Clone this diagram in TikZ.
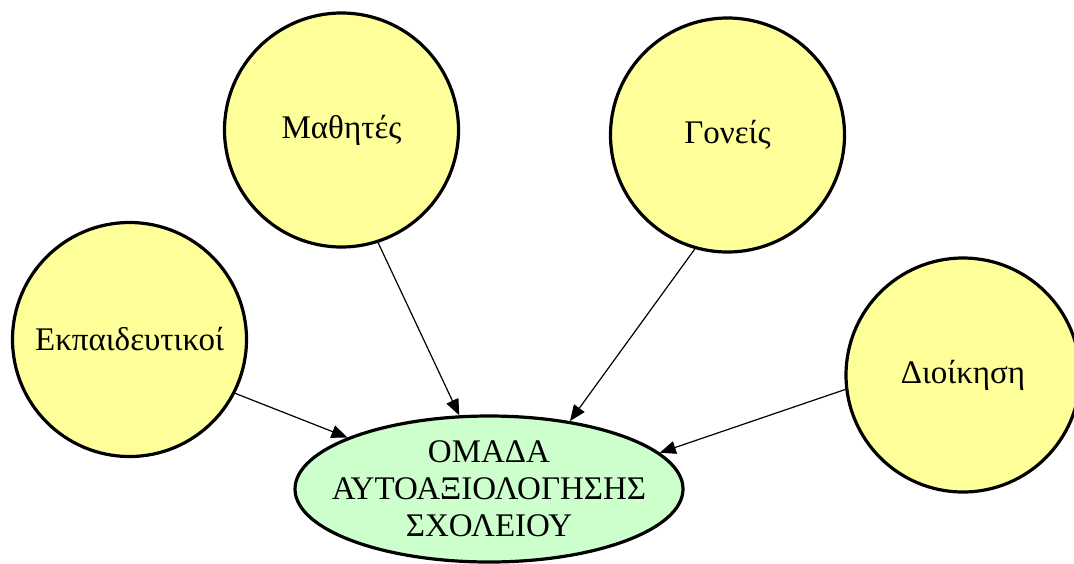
\documentclass[tikz,border=0pt]{standalone}
\usepackage{fontspec}
\setmainfont{Liberation Serif}
\usetikzlibrary{arrows.meta}
\usetikzlibrary{shapes.geometric}
\definecolor{memberyellow}{RGB}{255,255,153}
\definecolor{groupgreen}{RGB}{204,255,204}

\begin{document}
\begin{tikzpicture}[x=0.5pt, y=-0.5pt,
    member/.style={circle, draw, line width=1.6pt, fill=memberyellow, minimum size=117pt, inner sep=0pt, font=\fontsize{16.5}{18.5}\selectfont},
    group/.style={ellipse, draw, line width=1.6pt, fill=groupgreen, minimum width=194pt, minimum height=73pt, inner xsep=-10pt, inner ysep=0pt, align=center, font=\fontsize{16.5}{18.5}\selectfont},
    link/.style={-{Triangle[length=8pt,width=6.5pt]}, line width=0.6pt}]
  \useasboundingbox (0,0) rectangle (1074,563);

  % the four groups
  \node[member] (ekp) at (129.5,339.5) {Εκπαιδευτικοί};
  \node[member] (mat) at (341.5,130) {Μαθητές};
  \node[member] (gon) at (727.5,135) {Γονείς};
  \node[member] (dio) at (963,375) {Διοίκηση};

  % the team
  \node[group] (omada) at (489,489) {ΟΜΑΔΑ\\ΑΥΤΟΑΞΙΟΛΟΓΗΣΗΣ\\ΣΧΟΛΕΙΟΥ};

  \draw[link] (ekp.-27) -- (omada.160.4);
  \draw[link] (mat.288.5) -- (omada.112.5);
  \draw[link] (gon.254.6) -- (omada.40);
  \draw[link] (dio.187) -- (omada.12.8);
\end{tikzpicture}
\end{document}
